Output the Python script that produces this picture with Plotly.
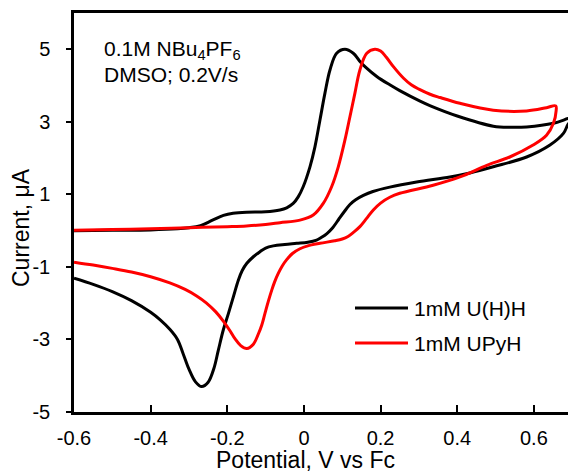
import plotly.graph_objects as go

# ---- Data ----
# 1mM U(H)H  (black) : forward scan then reverse scan
uhh_x = [-0.6, -0.5, -0.4, -0.33, -0.3, -0.27, -0.24, -0.21, -0.185, -0.15, -0.1, -0.0626, -0.045,
         -0.028, -0.015, -0.002, 0.0157, 0.0287, 0.0418, 0.0548, 0.0679, 0.0853, 0.107, 0.1287,
         0.145, 0.1636, 0.19, 0.224, 0.25, 0.303, 0.33, 0.4, 0.494, 0.54, 0.581, 0.651, 0.689, 0.705,
         0.697, 0.689, 0.677, 0.642, 0.581, 0.494, 0.433, 0.381, 0.294, 0.224, 0.18, 0.155, 0.135,
         0.12, 0.105, 0.09, 0.075, 0.06, 0.045, 0.033, 0.01, -0.019, -0.05, -0.08, -0.1, -0.1147,
         -0.132, -0.149, -0.161, -0.171, -0.184, -0.197, -0.2105, -0.2235, -0.235, -0.25, -0.267,
         -0.283, -0.3, -0.315, -0.33, -0.35, -0.375, -0.4, -0.45, -0.5, -0.55, -0.6]
uhh_y = [0.0, 0.01, 0.02, 0.05, 0.08, 0.14, 0.28, 0.42, 0.48, 0.51, 0.52, 0.57, 0.63,
         0.75, 0.93, 1.21, 1.76, 2.31, 3.05, 3.79, 4.43, 4.89, 5.0, 4.89,
         4.68, 4.48, 4.25, 4.02, 3.86, 3.57, 3.44, 3.16, 2.88, 2.85, 2.86, 2.96, 3.09, 3.14,
         3.02, 2.93, 2.68, 2.36, 2.03, 1.76, 1.59, 1.48, 1.34, 1.2, 1.08, 0.97, 0.85,
         0.72, 0.52, 0.3, 0.08, -0.08, -0.19, -0.26, -0.32, -0.35, -0.38, -0.42, -0.48, -0.58,
         -0.72, -0.9, -1.1, -1.36, -1.82, -2.28, -2.74, -3.3, -3.8, -4.18, -4.3,
         -4.17, -3.82, -3.4, -3.0, -2.72, -2.46, -2.25, -1.93, -1.68, -1.48, -1.31]

# 1mM UPyH (red) : forward scan then reverse scan
upyh_x = [-0.6, -0.5, -0.4, -0.3, -0.2, -0.15, -0.1, -0.0626, -0.0104, 0.0243, 0.0504, 0.0722,
          0.0896, 0.107, 0.12, 0.133, 0.146, 0.164, 0.185, 0.2, 0.215, 0.235, 0.26, 0.28, 0.3,
          0.329, 0.355, 0.407, 0.494, 0.581, 0.633, 0.657,
          0.658, 0.651, 0.633, 0.598, 0.537, 0.477, 0.407, 0.337, 0.25, 0.224, 0.2, 0.181, 0.163,
          0.146, 0.13, 0.115, 0.1, 0.08, 0.0418, 0.01, -0.0104, -0.03, -0.045, -0.057, -0.067,
          -0.076, -0.084, -0.093, -0.1017, -0.11, -0.119, -0.132, -0.149, -0.165, -0.18, -0.193,
          -0.21, -0.23, -0.255, -0.28, -0.31, -0.35, -0.4, -0.45, -0.5, -0.55, -0.6]
upyh_y = [0.01, 0.03, 0.05, 0.08, 0.11, 0.13, 0.17, 0.22, 0.29, 0.43, 0.75, 1.21,
          1.76, 2.5, 3.14, 3.79, 4.43, 4.89, 5.0, 4.95, 4.78, 4.5, 4.2, 4.02, 3.9,
          3.76, 3.67, 3.51, 3.32, 3.3, 3.39, 3.44,
          3.3, 2.96, 2.63, 2.36, 2.03, 1.8, 1.48, 1.25, 1.03, 0.92, 0.76, 0.57, 0.33,
          0.11, -0.04, -0.16, -0.23, -0.28, -0.35, -0.42, -0.5, -0.63, -0.8, -0.98, -1.18,
          -1.4, -1.64, -1.95, -2.28, -2.6, -2.85, -3.13, -3.25, -3.17, -2.98, -2.76,
          -2.5, -2.24, -1.99, -1.8, -1.62, -1.44, -1.27, -1.14, -1.04, -0.95, -0.87]

series_names = ["1mM U(H)H", "1mM UPyH"]
series_colors = ["#000000", "#FF0000"]

x_tickvals = [-0.6, -0.4, -0.2, 0.0, 0.2, 0.4, 0.6]
x_ticktext = ["-0.6", "-0.4", "-0.2", "0", "0.2", "0.4", "0.6"]
y_tickvals = [-5, -3, -1, 1, 3, 5]
y_ticktext = ["-5", "-3", "-1", "1", "3", "5"]

FONT = "Liberation Sans, Arial, sans-serif"

fig = go.Figure()
for xs, ys, name, col in [(uhh_x, uhh_y, series_names[0], series_colors[0]),
                          (upyh_x, upyh_y, series_names[1], series_colors[1])]:
    fig.add_trace(go.Scatter(x=xs, y=ys, mode="lines", name=name,
                             line=dict(color=col, width=3, shape="spline", smoothing=1.0),
                             showlegend=False))

# plot-area geometry
L, T, R, B = 74, 13, 0, 62
W, H = 568, 474
pw, ph = W - L - R, H - T - B

def px(xp):
    return (xp - L) / pw

def py(yp):
    return (H - B - yp) / ph

fig.update_layout(
    width=W, height=H,
    margin=dict(l=L, r=R, t=T, b=B, pad=0),
    paper_bgcolor="white", plot_bgcolor="white",
    font=dict(family=FONT, color="black", size=20),
    xaxis=dict(range=[-0.6, 0.689], tickvals=x_tickvals, ticktext=x_ticktext,
               showgrid=False, zeroline=False, showline=True, linecolor="black",
               linewidth=2.5, mirror=True, ticks="inside", ticklen=7, tickwidth=2,
               tickcolor="black", tickfont=dict(size=20), ticklabelstandoff=6),
    yaxis=dict(range=[-5, 6], tickvals=y_tickvals, ticktext=y_ticktext,
               showgrid=False, zeroline=False, showline=True, linecolor="black",
               linewidth=2.5, ticks="outside", ticklen=5, tickwidth=2,
               tickcolor="black", tickfont=dict(size=20), ticklabelstandoff=12),
)

# axis titles
fig.add_annotation(text="Potential, V vs Fc", xref="paper", yref="paper",
                   x=px(305.5), y=py(460), xanchor="center", yanchor="middle",
                   showarrow=False, font=dict(size=23))
fig.add_annotation(text="Current, μA", xref="paper", yref="paper",
                   x=px(21), y=py(228), xanchor="center", yanchor="middle",
                   textangle=-90, showarrow=False, font=dict(size=23))

# condition text
fig.add_annotation(text="0.1M NBu<sub>4</sub>PF<sub>6</sub>", xref="paper", yref="paper",
                   x=px(102), y=py(50), xanchor="left", yanchor="middle",
                   showarrow=False, font=dict(size=21))
fig.add_annotation(text="DMSO; 0.2V/s", xref="paper", yref="paper",
                   x=px(102), y=py(74), xanchor="left", yanchor="middle",
                   showarrow=False, font=dict(size=21))

# manual legend
for i, (name, col) in enumerate(zip(series_names, series_colors)):
    yy = [308, 343][i]
    fig.add_shape(type="line", xref="paper", yref="paper",
                  x0=px(355), x1=px(408), y0=py(yy), y1=py(yy),
                  line=dict(color=col, width=3))
    fig.add_annotation(text=name, xref="paper", yref="paper",
                       x=px(412), y=py(yy), xanchor="left", yanchor="middle",
                       showarrow=False, font=dict(size=21))

fig.write_html("out.html")
